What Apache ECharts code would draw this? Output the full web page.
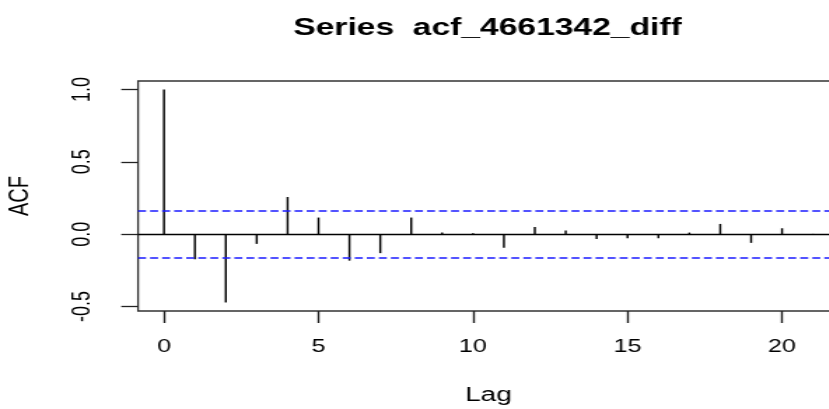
<!DOCTYPE html>
<html lang="en">
<head>
	<meta charset="UTF-8">
	<title>ACF</title>
	<style>
		*{margin: 0; padding: 0; box-sizing: border-box;}
		body{
			width: 829px;
			height: 409px;
			overflow: hidden;
			background-color: #fff;
		}
		/* the reference is stretched sideways, so draw narrow and scale */
		#view{
			width: 592px;
			height: 409px;
			transform: scaleX(1.4);
			transform-origin: 0 0;
		}
	</style>
</head>
<body>
	<div id="view"></div>
	<script src="https://cdn.jsdelivr.net/npm/echarts@6/dist/echarts.min.js"></script>
	<script>
	const lags = [0, 1, 2, 3, 4, 5, 6, 7, 8, 9, 10, 11, 12, 13, 14, 15, 16, 17, 18, 19, 20, 21];
	const acfValues = [1.0, -0.174, -0.472, -0.067, 0.257, 0.115, -0.183, -0.131, 0.115, 0.011, 0.007,
		-0.094, 0.05, 0.025, -0.034, -0.028, -0.028, 0.011, 0.071, -0.06, 0.041, 0.002];
	const confBounds = [0.157, -0.157];
	const xTicks = [0, 5, 10, 15, 20];
	const yTicks = [-0.5, 0, 0.5, 1.0];
	const xRange = [-0.84, 21.84];
	const yRange = [-0.531, 1.059];

	const font = 'Liberation Sans, Arial, sans-serif';
	const points = lags.map(function (l, i) { return [l, acfValues[i]]; });

	let markLines = [{yAxis: 0, lineStyle: {color: '#000', type: 'solid', width: 1.3}}];
	confBounds.forEach(function (c) {
		markLines.push({yAxis: c, lineStyle: {color: '#1a1aff', type: [5.7, 2.9], width: 1.5}});
	});

	let option = {
		backgroundColor: '#fff',
		animation: false,
		title: {
			text: 'Series  acf_4661342_diff',
			left: 343.2,
			textAlign: 'center',
			top: 11,
			textStyle: {fontFamily: font, fontSize: 24, fontWeight: 'bold', color: '#000'}
		},
		grid: {
			left: 98.6,
			top: 81,
			width: 500.6,
			height: 230,
			outerBoundsMode: 'none',
			show: true,
			borderColor: '#333',
			borderWidth: 1.3,
			backgroundColor: 'transparent'
		},
		xAxis: {
			type: 'value',
			min: xRange[0],
			max: xRange[1],
			name: 'Lag',
			nameLocation: 'middle',
			nameGap: 74,
			nameTextStyle: {fontFamily: font, fontSize: 20, color: '#000'},
			axisLine: {show: false, onZero: false},
			axisTick: {show: true, length: 12, customValues: xTicks, lineStyle: {color: '#222', width: 1.4}},
			axisLabel: {customValues: xTicks, margin: 27, fontFamily: font, fontSize: 18, color: '#000',
				formatter: function (v) { return String(v); }},
			splitLine: {show: false}
		},
		yAxis: {
			type: 'value',
			min: yRange[0],
			max: yRange[1],
			name: 'ACF',
			nameLocation: 'middle',
			nameRotate: 90,
			nameGap: 74,
			nameTextStyle: {fontFamily: font, fontSize: 20, color: '#000'},
			axisLine: {show: false, onZero: false},
			axisTick: {show: true, length: 12, customValues: yTicks, lineStyle: {color: '#222', width: 1.3}},
			axisLabel: {customValues: yTicks, rotate: 90, margin: 31, fontFamily: font, fontSize: 18, color: '#000',
				formatter: function (v) { return v.toFixed(1); }},
			splitLine: {show: false}
		},
		series: [{
			type: 'custom',
			data: points,
			clip: true,
			renderItem: function (params, api) {
				const p0 = api.coord([api.value(0), 0]);
				const p1 = api.coord([api.value(0), api.value(1)]);
				return {
					type: 'line',
					shape: {x1: p0[0], y1: p0[1], x2: p1[0], y2: p1[1]},
					style: {stroke: '#000', lineWidth: 1.45}
				};
			},
			markLine: {
				silent: true,
				symbol: ['none', 'none'],
				label: {show: false},
				data: markLines
			}
		}]
	};
	var myChart = echarts.init(document.getElementById('view'));
	myChart.setOption(option);
	</script>
</body>
</html>
